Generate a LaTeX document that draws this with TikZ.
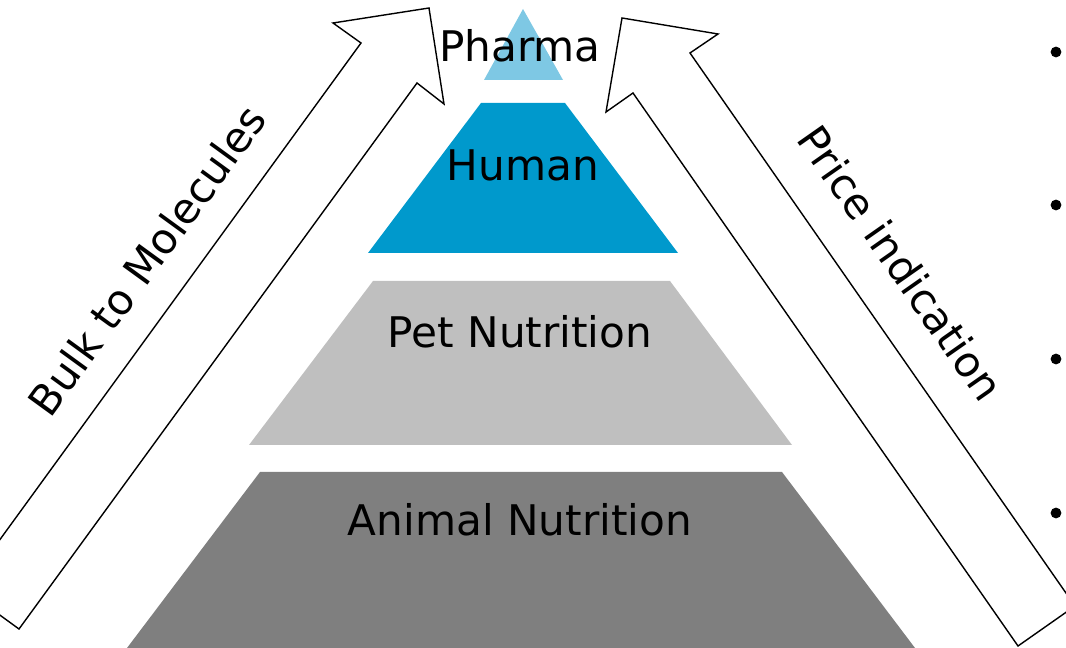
\documentclass[tikz,border=0pt]{standalone}
\usepackage{fontspec}
\setmainfont{DejaVu Sans}
\usetikzlibrary{positioning}
\definecolor{pharmablue}{RGB}{126,200,228}
\definecolor{humanblue}{RGB}{0,153,204}
\definecolor{petgrey}{RGB}{191,191,191}
\definecolor{animalgrey}{RGB}{127,127,127}

\begin{document}
\begin{tikzpicture}[x=0.025cm, y=-0.025cm,
  tiertext/.style={font=\fontsize{30}{36}\selectfont, inner sep=0pt, anchor=base},
  arrowtext/.style={font=\fontsize{30}{36}\selectfont, inner sep=0pt},
  blockarrow/.style={draw=black, fill=white, line width=1pt, line join=miter},
  dot/.style={circle, fill=black, inner sep=0pt, minimum size=0.27cm}
]
\useasboundingbox (0,0) rectangle (1066,648);
\clip (0,0) rectangle (1066,648);

% the two block arrows
\draw[blockarrow] (19,629) -- (417,83) -- (444,104) -- (429,8) -- (333,23)
  -- (361,43) -- (-36,589) -- cycle;
\draw[blockarrow] (1018,646) -- (633,93) -- (606,112) -- (622,18) -- (718,34)
  -- (690,53) -- (1075,606) -- cycle;

% pyramid tiers, top to bottom
\fill[pharmablue] (523,9) -- (563,80) -- (484,80) -- cycle;
\fill[humanblue] (481,103) -- (565,103) -- (678,253) -- (368,253) -- cycle;
\fill[petgrey] (373,281) -- (670,281) -- (792,445) -- (249,445) -- cycle;
\fill[animalgrey] (260,472) -- (782,472) -- (915,648) -- (127,648) -- cycle;

\node[tiertext] (pharma) at (520,62) {Pharma};
\node[tiertext] (human) at (523,181) {Human};
\node[tiertext] (pet) at (520,348) {Pet Nutrition};
\node[tiertext] (animal) at (520,535) {Animal Nutrition};

\node[arrowtext, rotate=54] (bulk) at (147,260) {Bulk to Molecules};
\node[arrowtext, rotate=-55] (price) at (901,263) {Price indication};

% bullets of the cut-off list
\foreach \y [count=\i] in {52,205,359,513}
  \node[dot] (b\i) at (1056,\y) {};
\end{tikzpicture}
\end{document}
